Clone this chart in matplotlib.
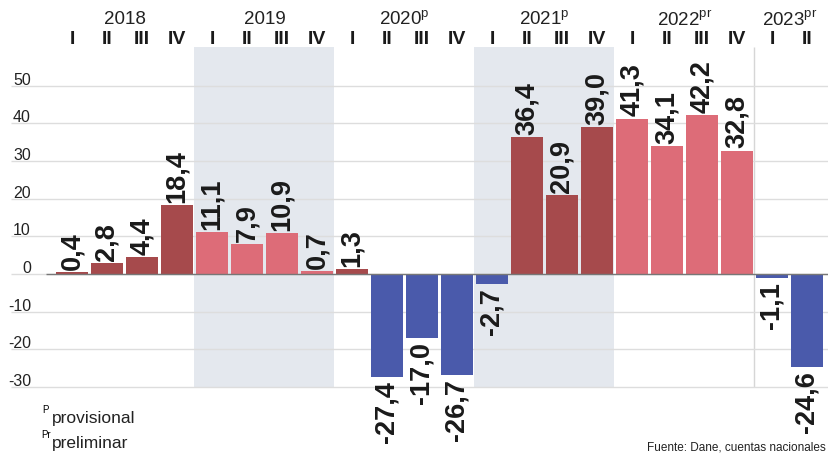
import matplotlib
matplotlib.use("Agg")
import matplotlib.pyplot as plt

# crecimiento anual por trimestre (%)
years = ["2018", "2019", "2020", "2021", "2022", "2023"]
year_marks = ["", "", "p", "p", "pr", "pr"]
year_tone = ["dark", "light", "dark", "dark", "light", "dark"]
quarters = ["I", "II", "III", "IV"]
n_quarters = [4, 4, 4, 4, 4, 2]
values = [0.4, 2.8, 4.4, 18.4,
          11.1, 7.9, 10.9, 0.7,
          1.3, -27.4, -17.0, -26.7,
          -2.7, 36.4, 20.9, 39.0,
          41.3, 34.1, 42.2, 32.8,
          -1.1, -24.6]
yticks = [50, 40, 30, 20, 10, 0, -10, -20, -30]

DARK = "#a64a4c"
LIGHT = "#dd6c78"
BLUE = "#4a5aab"
SHADE = "#e4e8ee"
GRID = "#dddddd"

plt.rcParams["mathtext.fontset"] = "custom"
plt.rcParams["mathtext.rm"] = "Liberation Sans"
SANS = ["Liberation Sans", "DejaVu Sans"]

W, H = 829, 456
fig = plt.figure(figsize=(W / 100, H / 100), dpi=100)
ax = fig.add_axes([0, 0, 1, 1])
ax.axis("off")

# pixel mapping: bar i centred at 72 + 35 i, zero at y=275, 3.765 px per unit
x0, step = 72, 35.0
y0, scale = 275, 3.765
ax.set_xlim(-x0 / step, (W - x0) / step)
ax.set_ylim((y0 - H) / scale, y0 / scale)


def px(x):
    return (x - x0) / step


top = 60.4
# shaded years (2019 and 2021)
start = 0
for k, n in enumerate(n_quarters):
    if k in (1, 3):
        ax.fill_between([start - 0.5, start + n - 0.5], -30, top,
                        color=SHADE, lw=0, zorder=0)
    start += n
ax.vlines(19.5, -30, top, color="#d6d6d6", lw=1, zorder=1)

# grid and y labels
for t in yticks:
    ax.hlines(t, px(11), px(W), color=GRID, lw=1, zorder=1)
    ax.text(px(31), t + 0.55, str(t), ha="right", va="baseline",
            fontsize=11.5, family=SANS, color="#222222")
ax.hlines(0, px(46), px(W), color="#777777", lw=1, zorder=3)

# bars
colors = []
for k, n in enumerate(n_quarters):
    first = sum(n_quarters[:k])
    for v in values[first:first + n]:
        if v < 0:
            colors.append(BLUE)
        else:
            colors.append(DARK if year_tone[k] == "dark" else LIGHT)
xs = list(range(len(values)))
ax.bar(xs, values, width=0.91, color=colors, zorder=2)

for x, v in zip(xs, values):
    label = f"{v:.1f}".replace(".", ",")
    if v >= 0:
        ax.text(x, v + 0.8, label, rotation=90, ha="center", va="bottom",
                fontsize=19.5, fontweight="bold", family=SANS, color="#1a1a1a")
    else:
        ax.text(x, v - 0.8, label, rotation=90, ha="center", va="top",
                fontsize=19.5, fontweight="bold", family=SANS, color="#1a1a1a")

# header: years and quarters
start = 0
for k, n in enumerate(n_quarters):
    centre = start + (n - 1) / 2
    label = years[k]
    if year_marks[k]:
        label += r"$^{\mathrm{" + year_marks[k] + "}}$"
    ax.text(centre, (y0 - 20) / scale, label, ha="center", va="center",
            fontsize=13.5, family=SANS, color="#222222")
    for q in range(n):
        ax.text(start + q, (y0 - 39) / scale, quarters[q], ha="center",
                va="center", fontsize=14, fontweight="bold", family=SANS,
                color="#1a1a1a")
    start += n

# notes
fig.text(42 / W, 1 - 410 / H, "P", fontsize=7, family=SANS, va="center")
fig.text(52 / W, 1 - 419 / H, "provisional", fontsize=12.5, family=SANS,
         va="center", color="#222222")
fig.text(41 / W, 1 - 435 / H, "Pr", fontsize=7, family=SANS, va="center")
fig.text(52 / W, 1 - 444 / H, "preliminar", fontsize=12.5, family=SANS,
         va="center", color="#222222")
fig.text(826 / W, 1 - 448 / H, "Fuente: Dane, cuentas nacionales",
         fontsize=8.5, family=SANS, ha="right", va="center", color="#222222")

fig.savefig("out.png", dpi=100)
